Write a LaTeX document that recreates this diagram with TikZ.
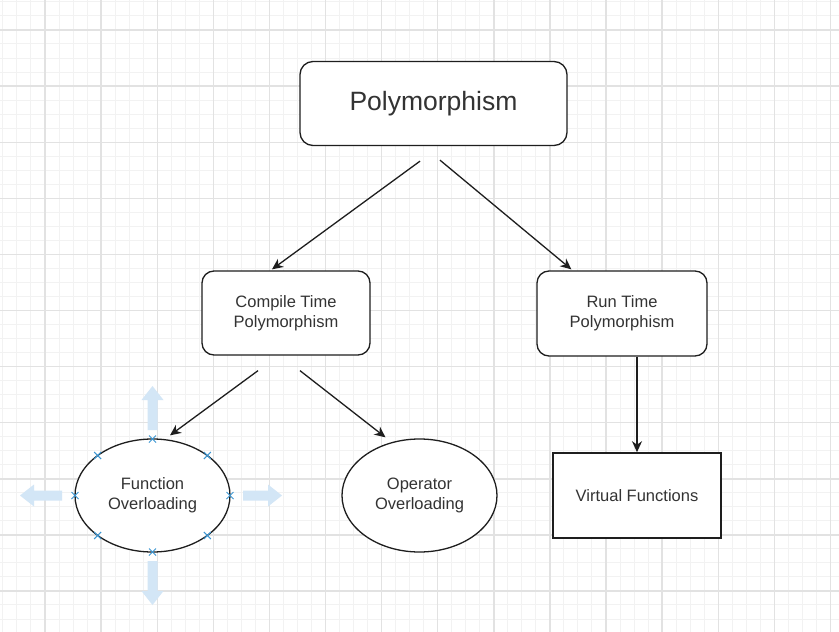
\documentclass[tikz,border=0pt]{standalone}
\usepackage{fontspec}
\setmainfont{Liberation Sans}
\usetikzlibrary{arrows.meta,shapes.geometric,calc}
\definecolor{txt}{HTML}{333333}
\definecolor{minorc}{HTML}{F2F2F2}
\definecolor{majorc}{HTML}{E2E2E2}
\definecolor{selx}{HTML}{3D97D3}
\definecolor{hoverb}{HTML}{D3E6F6}
\definecolor{edge}{HTML}{1E1E1E}
\begin{document}
\begin{tikzpicture}[x=1pt,y=-1pt,
  rbox/.style={draw=edge, line width=1.3, fill=white, rounded corners=12, text=txt, align=center, inner sep=0},
  ell/.style={draw=edge, line width=1.3, fill=white, ellipse, text=txt, align=center, inner sep=0},
  sbox/.style={draw=edge, line width=1.6, fill=white, text=txt, align=center, inner sep=0},
  small/.style={font=\fontsize{16.5}{20}\selectfont},
  arr/.style={draw=edge, line width=1.3, -{Stealth[length=11,width=10,inset=3.5]}},
  xm/.style={draw=selx, line width=1}
]
\fill[white] (0,0) rectangle (839,632);
\useasboundingbox (0,0) rectangle (839,632);
% grid
\foreach \i in {0,...,59} \draw[minorc, line width=1] ({2.9+14.025*\i},0) -- ({2.9+14.025*\i},632);
\foreach \i in {0,...,45} \draw[minorc, line width=1] (0,{1.9+14.025*\i}) -- (839,{1.9+14.025*\i});
\foreach \i in {0,...,14} \draw[majorc, line width=1.4] ({45+56.1*\i},0) -- ({45+56.1*\i},632);
\foreach \i in {0,...,10} \draw[majorc, line width=1.4] (0,{30+56.1*\i}) -- (839,{30+56.1*\i});

% hover arrows around Function Overloading
\fill[hoverb] (147.5,430) -- (147.5,400) -- (141.5,400) -- (152.5,386) -- (163.5,400) -- (157.5,400) -- (157.5,430) -- cycle;
\fill[hoverb] (147.5,561) -- (147.5,591) -- (141.5,591) -- (152.5,605) -- (163.5,591) -- (157.5,591) -- (157.5,561) -- cycle;
\fill[hoverb] (62,490.5) -- (34,490.5) -- (34,484.5) -- (20,495.5) -- (34,506.5) -- (34,500.5) -- (62,500.5) -- cycle;
\fill[hoverb] (243,490.5) -- (268,490.5) -- (268,484.5) -- (282,495.5) -- (268,506.5) -- (268,500.5) -- (243,500.5) -- cycle;

% nodes
\node[rbox, rounded corners=13, minimum width=267, minimum height=84, font=\fontsize{26.5}{30}\selectfont] (poly) at (433.5,103.5) {Polymorphism};
\node[rbox, small, minimum width=168, minimum height=84] (ctp) at (286,313) {Compile Time\\Polymorphism};
\node[rbox, small, minimum width=170, minimum height=85] (rtp) at (622,313.5) {Run Time\\Polymorphism};
\node[ell, small, minimum width=155, minimum height=113] (fo) at (152.5,495.5) {Function\\Overloading};
\node[ell, small, minimum width=155, minimum height=113] (oo) at (419.5,495.5) {Operator\\Overloading};
\node[sbox, small, minimum width=168, minimum height=85] (vf) at (637,495.5) {Virtual Functions};

% selection markers
\foreach \p in {(152.5,439),(152.5,552),(75,495.5),(230,495.5),(97.7,455.5),(207.3,455.5),(97.7,535.5),(207.3,535.5)}
  \draw[xm] \p ++(-3.5,-3.5) -- ++(7,7) \p ++(-3.5,3.5) -- ++(7,-7);

% connectors
\draw[arr] ([shift={(-13.5,15)}]poly.south) -- ([shift={(-14,-1)}]ctp.north);
\draw[arr] ([shift={(6.5,14)}]poly.south) -- ([shift={(35,-1)}]rtp.north west);
\draw[arr] ([shift={(-28,15)}]ctp.south) -- ([shift={(17.5,-3)}]fo.north);
\draw[arr] ([shift={(14,15)}]ctp.south) -- ([shift={(-34,-1)}]oo.north);
\draw[arr] ([xshift=15]rtp.south) -- (vf.north);
\end{tikzpicture}
\end{document}
